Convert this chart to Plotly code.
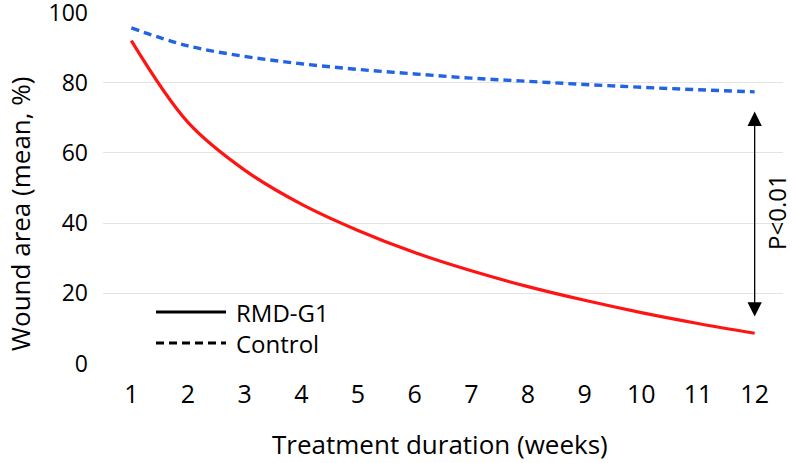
import plotly.graph_objects as go

weeks = [1, 2, 3, 4, 5, 6, 7, 8, 9, 10, 11, 12]
rmd_g1 = [92.0, 68.7, 55.1, 45.4, 37.9, 31.6, 26.4, 21.9, 18.0, 14.5, 11.4, 8.6]
control = [95.6, 90.5, 87.5, 85.4, 83.8, 82.5, 81.3, 80.4, 79.5, 78.7, 78.0, 77.4]
y_ticks = [0, 20, 40, 60, 80, 100]
legend_labels = ["RMD-G1", "Control"]
p_label = "P<0.01"
x_title = "Treatment duration (weeks)"
y_title = "Wound area (mean, %)"

FONT = "Open Sans"
FS = 25
fig = go.Figure()
fig.add_trace(go.Scatter(x=weeks, y=rmd_g1, mode="lines", name=legend_labels[0],
                         line=dict(color="#ff1414", width=3.2, shape="spline", smoothing=1.0),
                         showlegend=False))
fig.add_trace(go.Scatter(x=weeks, y=control, mode="lines", name=legend_labels[1],
                         line=dict(color="#2163e0", width=3.4, dash="8px,5px", shape="spline",
                                   smoothing=1.0),
                         showlegend=False))

# arrow between curves at last week
fig.add_annotation(x=weeks[-1], y=13.4, ax=weeks[-1], ay=72.2, xref="x", yref="y",
                   axref="x", ayref="y", text="", showarrow=True, arrowhead=2,
                   arrowside="end+start", arrowsize=2.2, arrowwidth=1.3, arrowcolor="black",
                   standoff=0, startstandoff=0)
fig.add_annotation(x=776, y=212, xref="paper", yref="paper", text=p_label, showarrow=False,
                   textangle=-90, xanchor="center", yanchor="middle", borderpad=0,
                   font=dict(family=FONT, size=24, color="black"))

# legend (drawn manually to match long line samples)
fig.add_shape(type="line", xref="paper", yref="paper", x0=156, x1=226, y0=312, y1=312,
              line=dict(color="black", width=3.2))
fig.add_shape(type="line", xref="paper", yref="paper", x0=156, x1=226, y0=343, y1=343,
              line=dict(color="black", width=3.2, dash="8px,5px"))
fig.add_annotation(x=235, y=312, xref="paper", yref="paper", text=legend_labels[0],
                   showarrow=False, xanchor="left", yanchor="middle", borderpad=0,
                   font=dict(family=FONT, size=24, color="black"))
fig.add_annotation(x=235, y=343, xref="paper", yref="paper", text=legend_labels[1],
                   showarrow=False, xanchor="left", yanchor="middle", borderpad=0,
                   font=dict(family=FONT, size=24, color="black"))

# axis titles
fig.add_annotation(x=440, y=444, xref="paper", yref="paper", text=x_title, showarrow=False,
                   xanchor="center", yanchor="middle",
                   font=dict(family=FONT, size=26, color="black"))
fig.add_annotation(x=20, y=214, xref="paper", yref="paper", text=y_title, showarrow=False,
                   textangle=-90, xanchor="center", yanchor="middle",
                   font=dict(family=FONT, size=26, color="black"))

W, H = 792, 463
# convert pixel coordinates of paper-ref items
L, R, T, B = 103, 9, 12, 99
pw, ph = W - L - R, H - T - B
for a in fig.layout.annotations:
    if a.xref == "paper":
        a.x = (a.x - L) / pw
        a.y = 1 - (a.y - T) / ph
for s in fig.layout.shapes:
    s.x0 = (s.x0 - L) / pw
    s.x1 = (s.x1 - L) / pw
    s.y0 = 1 - (s.y0 - T) / ph
    s.y1 = 1 - (s.y1 - T) / ph

fig.update_layout(
    width=W, height=H, margin=dict(l=L, r=R, t=T, b=B, autoexpand=False),
    plot_bgcolor="white", paper_bgcolor="white", showlegend=False,
    font=dict(family=FONT, size=FS, color="black"),
)
fig.update_xaxes(range=[0.5, 12.5], tickvals=weeks, ticktext=[str(w) for w in weeks],
                 showgrid=False, zeroline=False, showline=False, ticks="", automargin=False,
                 ticklabelstandoff=13, tickfont=dict(family=FONT, size=FS))
fig.update_yaxes(range=[-0.15, 100.15], tickvals=y_ticks, showgrid=True, gridcolor="#e3e3e3",
                 gridwidth=1, zeroline=False, showline=False, ticks="", automargin=False,
                 ticklabeloverflow="allow", ticklabelstandoff=14,
                 tickfont=dict(family=FONT, size=23))

fig.write_html("out.html", config={"displayModeBar": False},
               post_script="document.body.style.margin='0';")
